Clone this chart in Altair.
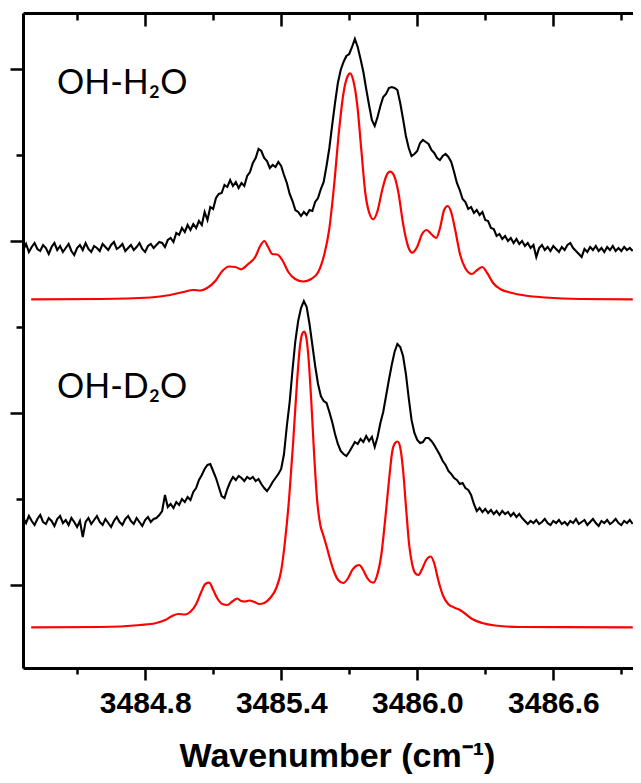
import altair as alt
import pandas as pd

# ---------------- data ----------------
# measured (black) traces: sampled on a regular wavenumber grid
exp_start = 3484.262   # cm-1
exp_step = 0.0125      # cm-1

h2o_exp = [418, 424, 416, 421, 425, 419, 417, 423, 420, 414, 421, 425, 418, 422, 416, 420, 424, 417, 413, 420,
           423, 418, 425, 419, 416, 422, 420, 417, 424, 421, 418, 423, 426, 419, 421, 424, 417, 420, 423, 418,
           421, 425, 419, 416, 422, 424, 420, 423, 426, 425, 421, 428, 430, 426, 435, 433, 440, 436, 443, 438,
           444, 440, 447, 443, 456, 448, 461, 459, 470, 474, 475, 483, 481, 488, 482, 486, 480, 485, 482, 492,
           496, 505, 510, 519, 517, 510, 507, 500, 503, 501, 506, 502, 493, 485, 474, 467, 458, 456, 452, 456,
           453, 458, 457, 466, 470, 479, 486, 502, 520, 543, 565, 585, 598, 606, 612, 614, 621, 629, 621, 609,
           596, 579, 563, 548, 542, 551, 562, 571, 574, 580, 581, 580, 578, 565, 549, 532, 520, 512, 514, 517,
           525, 528, 526, 524, 518, 515, 510, 508, 512, 514, 511, 506, 496, 485, 478, 469, 466, 459, 461, 455,
           458, 453, 456, 448, 447, 440, 439, 432, 434, 429, 432, 427, 430, 425, 429, 424, 427, 422, 425, 420,
           423, 411, 420, 423, 418, 421, 417, 422, 419, 416, 421, 418, 423, 425, 420, 417, 414, 411, 419, 416,
           421, 418, 422, 417, 420, 416, 421, 418, 422, 417, 420, 417, 421, 418, 420, 417]

d2o_exp = [150, 145, 152, 147, 143, 149, 153, 146, 144, 150, 147, 142, 149, 152, 145, 148, 143, 150, 146, 141,
           147, 131, 146, 150, 144, 148, 152, 146, 143, 149, 145, 141, 147, 151, 146, 143, 149, 152, 147, 144,
           150, 146, 142, 148, 151, 146, 149, 150, 153, 157, 173, 161, 164, 160, 166, 163, 169, 166, 171, 168,
           176, 180, 188, 193, 199, 203, 204, 197, 190, 181, 172, 170, 179, 186, 191, 188, 192, 190, 187, 191,
           189, 191, 187, 189, 184, 180, 177, 181, 186, 190, 194, 199, 214, 242, 266, 298, 327, 347, 360, 367,
           361, 344, 323, 302, 284, 272, 267, 265, 256, 246, 234, 224, 217, 214, 212, 216, 221, 226, 224, 229,
           226, 232, 227, 231, 221, 231, 245, 256, 272, 288, 303, 316, 324, 321, 312, 294, 270, 248, 235, 228,
           225, 226, 230, 230, 227, 223, 218, 213, 207, 203, 197, 194, 190, 188, 184, 185, 180, 178, 173, 164,
           157, 160, 156, 159, 155, 158, 154, 157, 153, 157, 154, 156, 152, 155, 151, 154, 150, 147, 144, 147,
           145, 148, 144, 146, 149, 145, 143, 147, 145, 148, 144, 146, 143, 147, 145, 149, 144, 146, 148, 143,
           146, 149, 145, 142, 147, 145, 148, 144, 146, 149, 145, 143, 147, 145, 148, 144]

# simulated (red) traces
h2o_sim_w = [3484.297, 3484.602, 3484.822, 3484.910, 3484.968, 3485.012, 3485.043, 3485.073, 3485.109, 3485.140,
             3485.170, 3485.197, 3485.223, 3485.254, 3485.285, 3485.307, 3485.325, 3485.342, 3485.360, 3485.382,
             3485.404, 3485.431, 3485.461, 3485.497, 3485.532, 3485.563, 3485.589, 3485.611, 3485.633, 3485.655,
             3485.673, 3485.691, 3485.704, 3485.717, 3485.735, 3485.753, 3485.770, 3485.788, 3485.806, 3485.823,
             3485.845, 3485.863, 3485.880, 3485.898, 3485.916, 3485.938, 3485.960, 3485.977, 3485.999, 3486.021,
             3486.041, 3486.061, 3486.083, 3486.100, 3486.118, 3486.134, 3486.149, 3486.167, 3486.189, 3486.211,
             3486.240, 3486.264, 3486.286, 3486.308, 3486.334, 3486.365, 3486.414, 3486.475, 3486.564, 3486.718,
             3486.950]
h2o_sim_i = [368.7, 369, 370.5, 373, 376, 378, 377.5, 380, 387, 397,
             401.5, 401, 398.7, 404, 411, 422, 427, 421, 414, 413.5,
             408, 396, 389, 386.5, 389, 396, 413, 438, 483, 538,
             573, 591, 594.7, 588, 563, 518, 476, 455, 448.7, 456,
             478, 492, 496.3, 492, 476, 443, 421, 415.3, 421, 434,
             438, 434, 430, 440, 458, 462, 456, 438, 413, 400,
             394, 398, 401, 395, 385, 379, 375.3, 372.5, 370.5, 369,
             368.7]

d2o_sim_w = [3484.297, 3484.602, 3484.778, 3484.844, 3484.888, 3484.919, 3484.946, 3484.976, 3484.998, 3485.025,
             3485.047, 3485.065, 3485.082, 3485.100, 3485.117, 3485.140, 3485.162, 3485.184, 3485.206, 3485.223,
             3485.241, 3485.259, 3485.281, 3485.303, 3485.325, 3485.351, 3485.378, 3485.400, 3485.417, 3485.435,
             3485.453, 3485.470, 3485.483, 3485.492, 3485.501, 3485.510, 3485.519, 3485.532, 3485.545, 3485.558,
             3485.572, 3485.585, 3485.598, 3485.616, 3485.633, 3485.651, 3485.673, 3485.695, 3485.713, 3485.730,
             3485.744, 3485.761, 3485.779, 3485.806, 3485.823, 3485.841, 3485.858, 3485.876, 3485.889, 3485.902,
             3485.913, 3485.924, 3485.937, 3485.951, 3485.964, 3485.977, 3485.990, 3486.004, 3486.021, 3486.039,
             3486.059, 3486.074, 3486.092, 3486.114, 3486.136, 3486.162, 3486.184, 3486.207, 3486.242, 3486.286,
             3486.343, 3486.453, 3486.950]
d2o_sim_i = [40.7, 41, 43, 44.7, 48, 52, 54, 53.5, 56, 64,
             76, 84, 85.3, 78, 70, 64, 63, 66.5, 69.5, 67,
             66.5, 67.5, 66, 64, 65, 70, 80, 98, 128, 171,
             228, 288, 323, 334, 336.5, 331, 313, 268, 213, 168,
             143, 133, 123, 108, 96, 88, 85, 90, 98, 102,
             103, 98, 90, 85.3, 93, 113, 148, 190, 216, 225,
             226.5, 221, 198, 158, 123, 104, 95, 93, 99, 108,
             111.5, 105, 88, 72, 64, 60.5, 58.5, 55, 49, 45,
             42.5, 41, 40.7]

label_text = ["OH-H\u2082O", "OH-D\u2082O"]
label_w = [3484.411, 3484.411]
label_i = [574, 270]

major_x = [3484.8, 3485.4, 3486.0, 3486.6]
minor_x = [3484.5, 3485.1, 3485.7, 3486.3, 3486.9]
major_y = [83, 255, 427, 599]
minor_y = [169, 341, 513]

# ---------------- tables ----------------
rows = []
for name, vals in (("H2O", h2o_exp), ("D2O", d2o_exp)):
    for k, v in enumerate(vals):
        rows.append({"w": round(exp_start + exp_step * k, 4), "I": v, "trace": name})
exp_df = pd.DataFrame(rows)

rows = []
for name, ws, vs in (("H2O", h2o_sim_w, h2o_sim_i), ("D2O", d2o_sim_w, d2o_sim_i)):
    for w, v in zip(ws, vs):
        rows.append({"w": w, "I": v, "trace": name})
sim_df = pd.DataFrame(rows)

lab_df = pd.DataFrame({"w": label_w, "I": label_i, "text": label_text})

W, H = 610, 655
xscale = alt.Scale(domain=[3484.261, 3486.951], nice=False, zero=False)
yscale = alt.Scale(domain=[0, 655], nice=False, zero=False)

tick_style = dict(grid=False, tickColor="black", domainColor="black", tickWidth=2.5, domainWidth=3,
                  labels=False, title=None)

# measured traces carry the main (bottom / left) axes
exp_layer = alt.Chart(exp_df).mark_line(color="black", strokeWidth=2.1, strokeJoin="miter").encode(
    x=alt.X("w:Q", scale=xscale, axis=alt.Axis(
        orient="bottom", values=major_x, format=".1f", grid=False,
        tickColor="black", tickSize=12, tickWidth=2.5,
        domainColor="black", domainWidth=3,
        labelFont="Liberation Sans", labelFontWeight="bold", labelFontSize=30, labelColor="black",
        labelPadding=8, labelBaseline="top", labelFlush=False, labelOverlap=False,
        title="Wavenumber (cm\u207b\u00b9)", titleFont="Liberation Sans", titleFontWeight="bold",
        titleFontSize=34, titleColor="black", titleBaseline="alphabetic", titleX=314, titleY=98)),
    y=alt.Y("I:Q", scale=yscale, axis=alt.Axis(
        orient="left", values=major_y, tickSize=13, **tick_style)),
    detail="trace:N",
)

sim_layer = alt.Chart(sim_df).mark_line(color="#ff0000", strokeWidth=2.2, interpolate="monotone").encode(
    x=alt.X("w:Q", scale=xscale, axis=None),
    y=alt.Y("I:Q", scale=yscale, axis=None),
    detail="trace:N",
)

text_layer = alt.Chart(lab_df).mark_text(
    align="left", baseline="alphabetic", font="Lato", fontSize=34, color="black"
).encode(
    x=alt.X("w:Q", scale=xscale, axis=None),
    y=alt.Y("I:Q", scale=yscale, axis=None),
    text="text:N",
)

def carrier(xaxis, yaxis):
    return alt.Chart(lab_df).mark_point(opacity=0).encode(
        x=alt.X("w:Q", scale=xscale, axis=xaxis),
        y=alt.Y("I:Q", scale=yscale, axis=yaxis),
    )

minor_bottom = carrier(alt.Axis(orient="bottom", values=minor_x, tickSize=6, domain=False, **tick_style),
                       alt.Axis(orient="left", values=minor_y, tickSize=7, domain=False, **tick_style))
top_major = carrier(alt.Axis(orient="bottom", offset=-H, values=major_x, tickSize=13, domain=True, **tick_style),
                    None)
top_minor = carrier(alt.Axis(orient="bottom", offset=-H, values=minor_x, tickSize=7, domain=False, **tick_style),
                    None)

chart = alt.layer(exp_layer, sim_layer, text_layer, minor_bottom, top_major, top_minor).resolve_axis(
    x="independent", y="independent"
).properties(
    width=W, height=H,
    padding={"left": 15, "top": 5, "right": 0, "bottom": 107},
    autosize=alt.AutoSizeParams(type="none"),
    background="white",
).configure_view(stroke=None)

chart.save("out.html", embed_options={"renderer": "svg", "actions": False})
